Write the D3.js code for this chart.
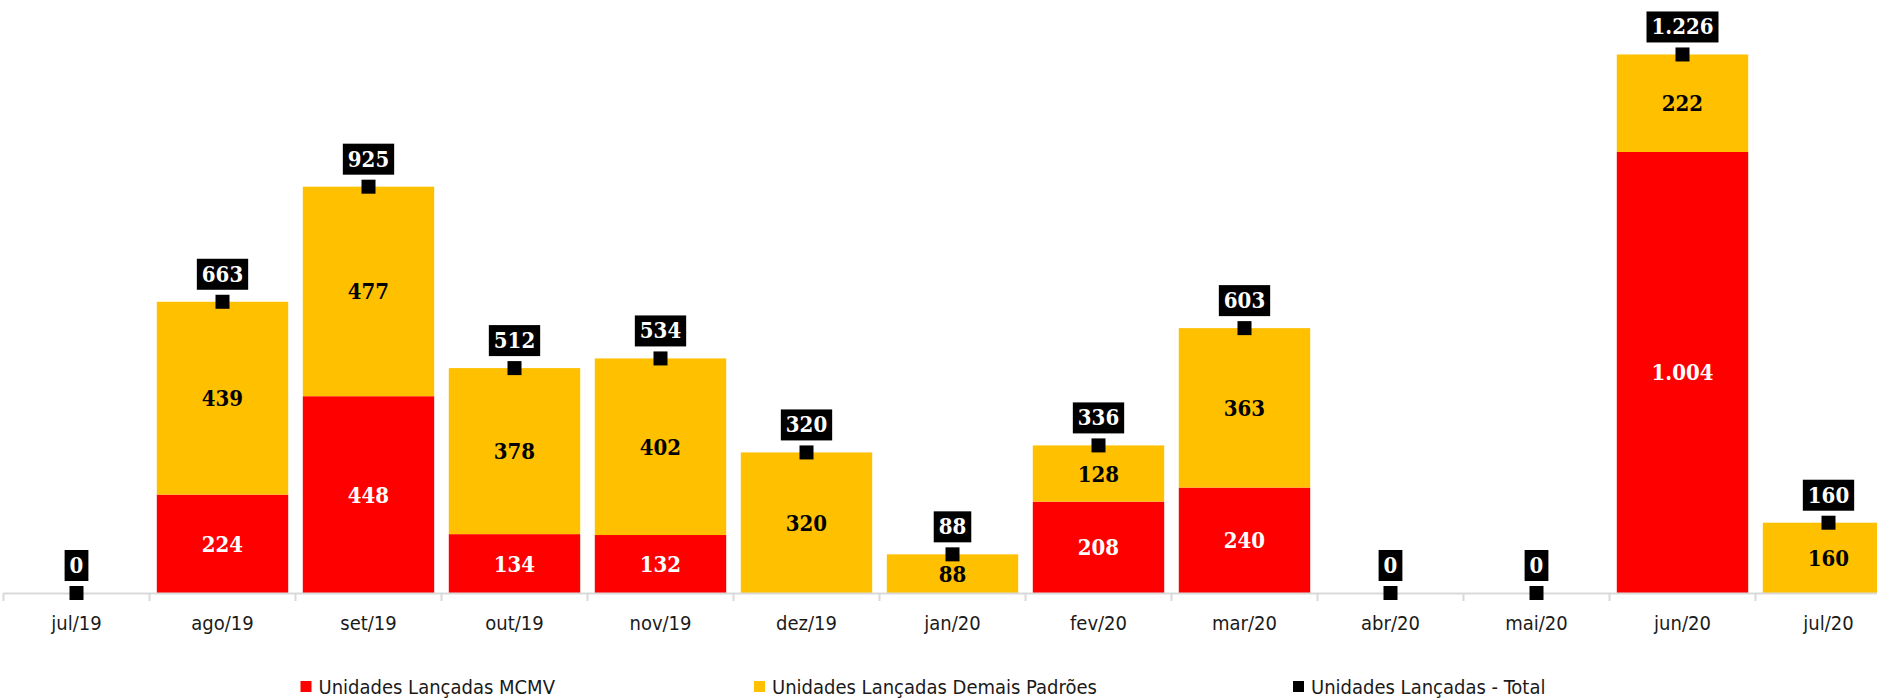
<!doctype html>
<meta charset="utf-8" />
<script src="https://cdn.jsdelivr.net/npm/d3@7/dist/d3.min.js"></script>
<style>
    body {
        margin: 0;
        background: white;
    }

    svg {
        display: block
    }

    .cat, .leg {
        font-family: "DejaVu Sans Condensed", "DejaVu Sans", sans-serif;
        font-size: 20px;
        fill: #1a1a1a;
    }

    .val {
        font-family: "DejaVu Serif Condensed", "DejaVu Serif", serif;
        font-weight: bold;
        font-size: 22px;
    }
</style>
<svg id="chart"></svg>
<script>
    // data
    var months = ['jul/19', 'ago/19', 'set/19', 'out/19', 'nov/19', 'dez/19', 'jan/20',
        'fev/20', 'mar/20', 'abr/20', 'mai/20', 'jun/20', 'jul/20'];
    var mcmv = [0, 224, 448, 134, 132, 0, 0, 208, 240, 0, 0, 1004, 0];
    var demais = [0, 439, 477, 378, 402, 320, 88, 128, 363, 0, 0, 222, 160];
    var total = [0, 663, 925, 512, 534, 320, 88, 336, 603, 0, 0, 1226, 160];
    var legendNames = ['Unidades Lançadas MCMV', 'Unidades Lançadas Demais Padrões', 'Unidades Lançadas - Total'];

    var W = 1877, H = 698;
    var red = '#ff0000', yellow = '#ffc000';

    var ptBR = d3.formatLocale({ decimal: ',', thousands: '.', grouping: [3], currency: ['R$', ''] });
    var fmt = ptBR.format(',d');

    var svg = d3.select('svg#chart')
        .attr('width', W)
        .attr('height', H);

    var x = d3.scaleBand()
        .domain(months)
        .range([3.5, 3.5 + 146 * months.length])
        .paddingInner(0.1)
        .paddingOuter(0.05);

    var y = d3.scaleLinear()
        .domain([0, 1350])
        .range([593, 0]);

    var rows = months.map((m, i) => ({ m: m, a: mcmv[i], b: demais[i], t: total[i] }));

    // stacked bars
    svg.selectAll('rect.mcmv')
        .data(rows.filter(d => d.a > 0))
        .enter()
        .append('rect')
        .attr('class', 'mcmv')
        .attr('x', d => x(d.m))
        .attr('width', x.bandwidth())
        .attr('y', d => y(d.a))
        .attr('height', d => y(0) - y(d.a))
        .style('fill', red);

    svg.selectAll('rect.demais')
        .data(rows.filter(d => d.b > 0))
        .enter()
        .append('rect')
        .attr('class', 'demais')
        .attr('x', d => x(d.m))
        .attr('width', x.bandwidth())
        .attr('y', d => y(d.a + d.b))
        .attr('height', d => y(d.a) - y(d.a + d.b))
        .style('fill', yellow);

    // segment labels
    svg.selectAll('text.in-a')
        .data(rows.filter(d => d.a > 0))
        .enter()
        .append('text')
        .attr('class', 'val')
        .attr('x', d => x(d.m) + x.bandwidth() / 2)
        .attr('y', d => y(d.a / 2) + 8)
        .attr('text-anchor', 'middle')
        .style('fill', 'white')
        .text(d => fmt(d.a));

    svg.selectAll('text.in-b')
        .data(rows.filter(d => d.b > 0))
        .enter()
        .append('text')
        .attr('class', 'val')
        .attr('x', d => x(d.m) + x.bandwidth() / 2)
        .attr('y', d => y(d.a + d.b / 2) + 8)
        .attr('text-anchor', 'middle')
        .style('fill', 'black')
        .text(d => fmt(d.b));

    // category axis: line, ticks between bands, labels
    var axis = svg.append('g');
    axis.append('line')
        .attr('x1', x.range()[0])
        .attr('x2', W)
        .attr('y1', y(0) + 0.5)
        .attr('y2', y(0) + 0.5)
        .style('stroke', '#d9d9d9')
        .style('stroke-width', 2);

    axis.selectAll('line.tick')
        .data(d3.range(months.length + 1))
        .enter()
        .append('line')
        .attr('x1', i => x.range()[0] + i * x.step())
        .attr('x2', i => x.range()[0] + i * x.step())
        .attr('y1', y(0))
        .attr('y2', y(0) + 8)
        .style('stroke', '#d9d9d9')
        .style('stroke-width', 2);

    axis.selectAll('text')
        .data(months)
        .enter()
        .append('text')
        .attr('class', 'cat')
        .attr('x', d => x(d) + x.bandwidth() / 2)
        .attr('y', 630)
        .attr('text-anchor', 'middle')
        .text(d => d);

    // total markers + boxed labels
    var tot = svg.selectAll('g.tot')
        .data(rows)
        .enter()
        .append('g')
        .attr('class', 'tot')
        .attr('transform', d => 'translate(' + (x(d.m) + x.bandwidth() / 2) + ',' + y(d.t) + ')');

    tot.append('rect')
        .attr('x', -7)
        .attr('y', -7)
        .attr('width', 14)
        .attr('height', 14)
        .style('fill', 'black');

    var box = tot.append('rect')
        .style('fill', 'black');

    var lbl = tot.append('text')
        .attr('class', 'val')
        .attr('y', -20)
        .attr('text-anchor', 'middle')
        .style('fill', 'white')
        .text(d => fmt(d.t));

    lbl.each(function (d, i) {
        var w = this.getComputedTextLength();
        d3.select(box.nodes()[i])
            .attr('x', -w / 2 - 5)
            .attr('width', w + 10)
            .attr('y', -43)
            .attr('height', 31);
    });

    // legend
    var legX = [300.5, 754, 1293];
    var legColors = [red, yellow, 'black'];
    var leg = svg.selectAll('g.leg')
        .data(legendNames)
        .enter()
        .append('g')
        .attr('transform', (d, i) => 'translate(' + legX[i] + ',681)');

    leg.append('rect')
        .attr('width', 11)
        .attr('height', 11)
        .style('fill', (d, i) => legColors[i]);

    leg.append('text')
        .attr('class', 'leg')
        .attr('x', 18)
        .attr('y', 13)
        .text(d => d);
</script>
